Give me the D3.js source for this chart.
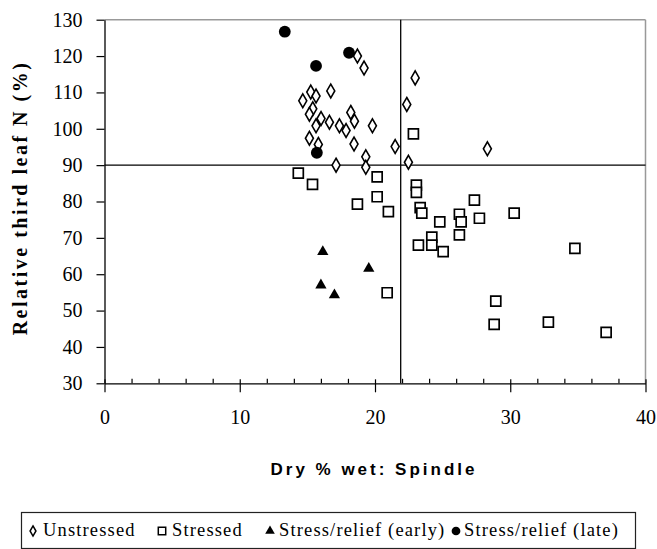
<!DOCTYPE html>
<html><head><meta charset="utf-8">
<script src="https://cdn.jsdelivr.net/npm/d3@7"></script>
<style>
html,body{margin:0;padding:0;background:#fff;}
svg{display:block;}
</style></head>
<body>
<script>
// Data (x = Dry % wet: Spindle, y = Relative third leaf N %)
const unstressedX = [18.7,19.19,22.97,16.73,15.25,15.64,14.66,22.35,15.4,15.15,18.21,18.48,16.01,15.64,16.63,17.37,17.86,19.81,15.15,15.81,18.45,21.49,28.31,19.32,19.32,17.12,22.47];
const unstressedY = [120.0,116.7,114.0,110.4,110.1,109.0,107.7,106.7,105.5,104.0,104.5,102.1,102.8,100.8,101.8,100.8,99.5,100.8,97.4,95.7,95.8,95.1,94.5,92.3,89.4,90.0,90.8];
const stressedX = [14.33,15.38,20.16,20.16,18.7,20.99,23.06,23.06,23.34,23.46,24.79,26.24,26.37,27.35,27.72,30.29,26.24,24.2,24.2,23.21,25.04,34.78,20.9,28.93,28.81,32.82,37.09,22.84];
const stressedY = [87.8,84.7,86.8,81.3,79.3,77.2,84.5,82.5,78.3,76.8,74.4,76.5,74.4,80.4,75.4,76.8,70.8,70.2,68.0,68.0,66.2,67.1,54.9,52.6,46.2,46.8,44.0,98.6];
const earlyX = [16.14,19.54,16.0,17.0];
const earlyY = [66.2,61.6,57.0,54.3];
const lateX = [13.33,18.08,15.64,15.7];
const lateY = [126.7,120.9,117.3,93.4];
const xTicks = [0,10,20,30,40];
const yTicks = [30,40,50,60,70,80,90,100,110,120,130];
const refX = 21.9, refY = 90;
const seriesNames = ["Unstressed","Stressed","Stress/relief (early)","Stress/relief (late)"];

const W = 657, H = 549;
const svg = d3.select("body").append("svg").attr("width", W).attr("height", H);
const x = d3.scaleLinear().domain([0,40]).range([104.5,645.5]);
const y = d3.scaleLinear().domain([30,130]).range([383.3,19.7]);
const serif = "'Liberation Serif','Times New Roman',serif";
const sans = "'Liberation Sans',Arial,sans-serif";

// frame (grey top/right)
svg.append("line").attr("x1",x(0)).attr("x2",x(40)).attr("y1",y(130)).attr("y2",y(130)).attr("stroke","#999").attr("stroke-width",1.5);
svg.append("line").attr("x1",x(40)).attr("x2",x(40)).attr("y1",y(130)).attr("y2",y(30)).attr("stroke","#999").attr("stroke-width",1.5);

// reference lines
svg.append("line").attr("x1",x(0)).attr("x2",x(40)).attr("y1",y(refY)).attr("y2",y(refY)).attr("stroke","#000").attr("stroke-width",1.3);
svg.append("line").attr("x1",x(refX)).attr("x2",x(refX)).attr("y1",y(130)).attr("y2",y(30)).attr("stroke","#000").attr("stroke-width",1.3);

// y axis
const ya = svg.append("g").attr("transform",`translate(${x(0)},0)`)
  .call(d3.axisLeft(y).tickValues(yTicks).tickSize(8).tickPadding(14).tickSizeOuter(0));
ya.select(".domain").attr("stroke","#000").attr("stroke-width",1.3);
ya.selectAll(".tick line").attr("stroke","#000").attr("stroke-width",1.2);
ya.selectAll(".tick text").attr("font-family",serif).attr("font-size",20).attr("fill","#000");

// x axis minor ticks
const minor = d3.range(0,41,2).filter(v => v % 10 !== 0);
const xm = svg.append("g").attr("transform",`translate(0,${y(30)})`)
  .call(d3.axisBottom(x).tickValues(minor).tickSize(-4.5).tickFormat("").tickSizeOuter(0));
xm.select(".domain").remove();
xm.selectAll(".tick line").attr("stroke","#000").attr("stroke-width",1.2);

// x axis major
const xa = svg.append("g").attr("transform",`translate(0,${y(30)})`)
  .call(d3.axisBottom(x).tickValues(xTicks).tickSize(9).tickPadding(18).tickSizeOuter(0));
xa.select(".domain").attr("stroke","#000").attr("stroke-width",1.3);
xa.selectAll(".tick line").attr("y1",-4).attr("stroke","#000").attr("stroke-width",1.2);
xa.selectAll(".tick text").attr("font-family",serif).attr("font-size",20).attr("fill","#000");

// axis titles
svg.append("text").attr("x",374).attr("y",475).attr("text-anchor","middle")
  .attr("font-family",sans).attr("font-weight","bold").attr("font-size",17).attr("letter-spacing",3)
  .text("Dry % wet: Spindle");
svg.append("text").attr("transform","translate(27,198) rotate(-90)").attr("text-anchor","middle")
  .attr("font-family",serif).attr("font-weight","bold").attr("font-size",20).attr("letter-spacing",2.5)
  .text("Relative third leaf N (%)");

// markers
const diamond = d3.symbol().type(d3.symbolDiamond).size(55)();
const square = d3.symbol().type(d3.symbolSquare).size(100)();
const tri = d3.symbol().type(d3.symbolTriangle).size(55)();
const circ = d3.symbol().type(d3.symbolCircle).size(110)();

function plot(xs, ys, path, filled, sw){
  svg.append("g").selectAll("path").data(xs.map((v,i)=>[v,ys[i]])).join("path")
    .attr("d", path)
    .attr("transform", d => `translate(${x(d[0])},${y(d[1])})`)
    .attr("fill", filled ? "#000" : "#fff")
    .attr("stroke", "#000").attr("stroke-width", sw);
}
plot(stressedX, stressedY, square, false, 1.7);
plot(unstressedX, unstressedY, diamond, false, 1.6);
plot(earlyX, earlyY, tri, true, 0);
plot(lateX, lateY, circ, true, 0);

// legend
const lg = svg.append("g");
lg.append("rect").attr("x",21.5).attr("y",512.5).attr("width",614).attr("height",36)
  .attr("fill","none").attr("stroke","#222").attr("stroke-width",1.2);
const items = [
  {name: seriesNames[0], mx: 33, tx: 43, path: d3.symbol().type(d3.symbolDiamond).size(30)(), filled:false},
  {name: seriesNames[1], mx: 162, tx: 172, path: d3.symbol().type(d3.symbolSquare).size(55)(), filled:false},
  {name: seriesNames[2], mx: 270, tx: 279, path: d3.symbol().type(d3.symbolTriangle).size(40)(), filled:true},
  {name: seriesNames[3], mx: 456, tx: 464, path: d3.symbol().type(d3.symbolCircle).size(60)(), filled:true}
];
items.forEach(it=>{
  lg.append("path").attr("d",it.path).attr("transform",`translate(${it.mx},531)`)
    .attr("fill", it.filled?"#000":"#fff").attr("stroke","#000").attr("stroke-width", it.filled?0:1.5);
  lg.append("text").attr("x",it.tx).attr("y",536).attr("font-family",serif).attr("font-size",18.5)
    .attr("letter-spacing",1.15).text(it.name);
});
</script>
</body></html>
